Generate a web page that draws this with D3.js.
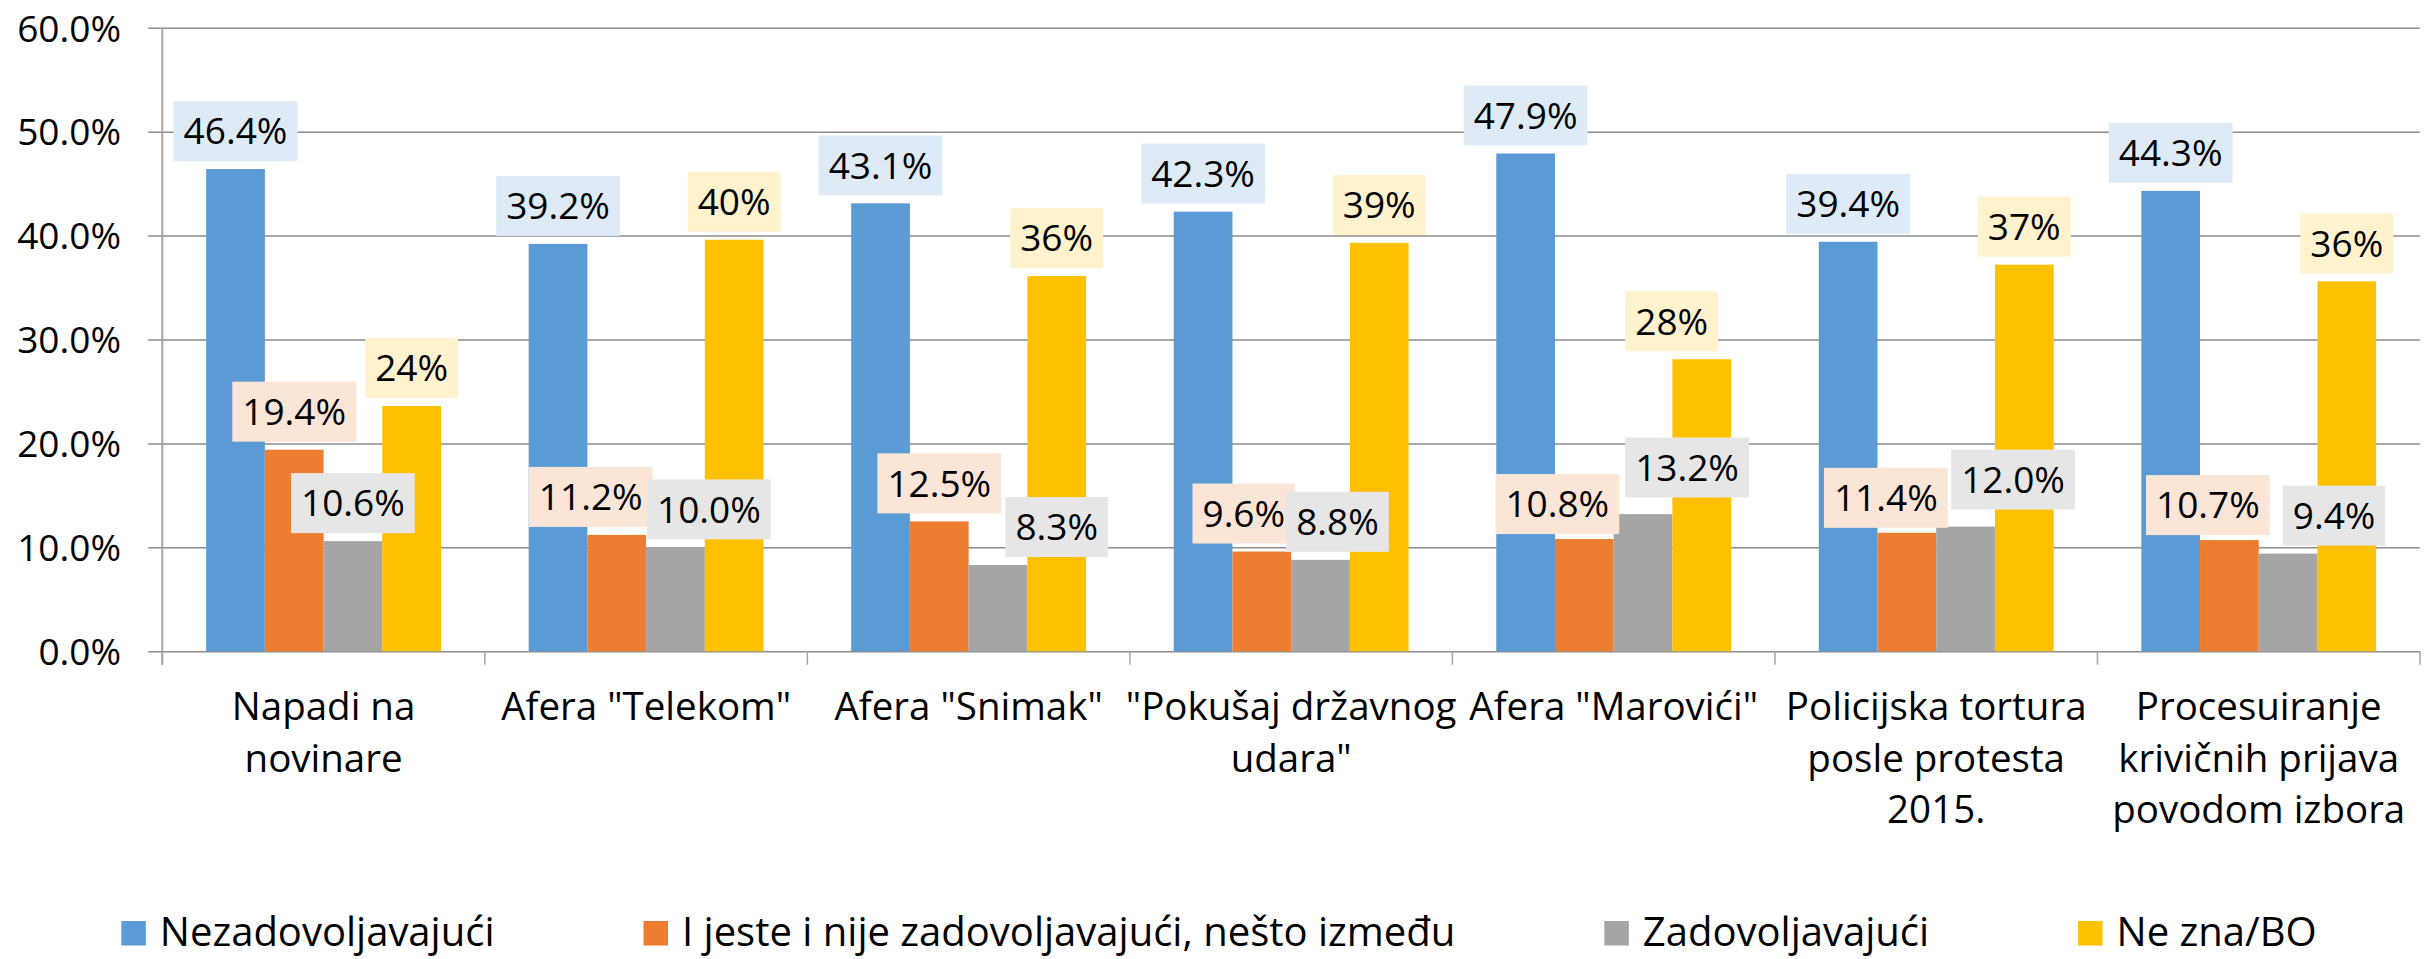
<!DOCTYPE html>
<html>
<head>
<meta charset="utf-8">
<script src="https://cdn.jsdelivr.net/npm/d3@7"></script>
<style>
  html, body { margin: 0; padding: 0; background: #fff; }
  svg { display: block; }
  text { font-family: "Open Sans", Lato, sans-serif; fill: #000; }
</style>
</head>
<body>
<svg id="chart" width="2433" height="959"></svg>
<script>
// ---- data ----
const categories = [
  ["Napadi na", "novinare"],
  ["Afera \"Telekom\""],
  ["Afera \"Snimak\""],
  ["\"Pokušaj državnog", "udara\""],
  ["Afera \"Marovići\""],
  ["Policijska tortura", "posle protesta", "2015."],
  ["Procesuiranje", "krivičnih prijava", "povodom izbora"]
];
const seriesNames = ["Nezadovoljavajući", "I jeste i nije zadovoljavajući, nešto između", "Zadovoljavajući", "Ne zna/BO"];
const nezadovoljavajuci = [46.4, 39.2, 43.1, 42.3, 47.9, 39.4, 44.3];
const izmedju = [19.4, 11.2, 12.5, 9.6, 10.8, 11.4, 10.7];
const zadovoljavajuci = [10.6, 10.0, 8.3, 8.8, 13.2, 12.0, 9.4];
const neZna = [23.6, 39.6, 36.1, 39.3, 28.1, 37.2, 35.6];
const yTicks = [0, 10, 20, 30, 40, 50, 60];
const labelDecimals = [1, 1, 1, 0];

const seriesValues = [nezadovoljavajuci, izmedju, zadovoljavajuci, neZna];

// ---- style / layout ----
const barColors = ["#5B9BD5", "#ED7D31", "#A5A5A5", "#FFC000"];
const boxColors = ["#DEEAF6", "#FBE5D6", "#E6E6E6", "#FFF2CC"];
// manual label nudges (px) as placed in the original, [series][category] -> [dx, dy]
const labelNudges = [
  [[0,0],[0,0],[0,0],[0,0],[0,0],[0,0],[0,0]],
  [[0,0],[-26,0],[0,0],[-18,0],[-27,3],[-21,3],[-21.5,3]],
  [[0,0],[33.5,0],[58.8,0],[17,0],[44,-8.6],[47.5,-9],[46,0]],
  [[0,0],[0,0],[0,0],[0,0],[-30,0],[0,0],[0,0]]
];

const svg = d3.select("#chart");
const plotLeft = 162.3, plotRight = 2420, plotTop = 27.7, plotBottom = 651.3;
const numFont = 37, catFont = 38.5, legendFont = 40;

const y = d3.scaleLinear().domain([0, 60]).range([plotBottom, plotTop]);
const catIdx = categories.map((c, i) => i);
const x0 = d3.scaleBand().domain(catIdx).range([plotLeft, plotRight]).padding(0);
const x1 = d3.scaleBand().domain(d3.range(seriesNames.length))
  .range([0, x0.bandwidth()]).paddingInner(0).paddingOuter(0.747);

// gridlines + y tick labels via axis
const yAxis = d3.axisLeft(y).tickValues(yTicks)
  .tickSize(-(plotRight - 148)).tickPadding(27)
  .tickFormat(d => d.toFixed(1) + "%");
const gy = svg.append("g").attr("transform", "translate(148,0)").call(yAxis);
gy.select(".domain").remove();
gy.selectAll(".tick line").attr("stroke", "#8E8E8E").attr("stroke-width", 1.5);
gy.selectAll(".tick text").attr("font-size", numFont).attr("fill", "#000")
  .attr("font-family", "'Open Sans', sans-serif").attr("dy", "0.36em");

// y axis line
svg.append("line").attr("x1", plotLeft).attr("x2", plotLeft)
  .attr("y1", plotTop).attr("y2", plotBottom + 13.5)
  .attr("stroke", "#A6A6A6").attr("stroke-width", 2);

// category ticks
const boundaries = d3.range(categories.length + 1).map(i =>
  i < categories.length ? x0(i) : x0(categories.length - 1) + x0.bandwidth());
svg.append("g").selectAll("line").data(boundaries).join("line")
  .attr("x1", d => d).attr("x2", d => d)
  .attr("y1", plotBottom).attr("y2", plotBottom + 13.5)
  .attr("stroke", "#A6A6A6").attr("stroke-width", 1.5);

// bars
const groups = svg.append("g").selectAll("g").data(catIdx).join("g")
  .attr("transform", i => `translate(${x0(i)},0)`);
groups.selectAll("rect").data(i => seriesValues.map((s, k) => ({k, v: s[i]}))).join("rect")
  .attr("x", d => x1(d.k)).attr("width", x1.bandwidth())
  .attr("y", d => y(d.v)).attr("height", d => y(0) - y(d.v))
  .attr("fill", d => barColors[d.k]);

// data labels (drawn series by series, like the original)
const labelLayer = svg.append("g");
seriesValues.forEach((s, k) => {
  catIdx.forEach(i => {
    const v = s[i];
    const [dx, dy] = labelNudges[k][i];
    const cx = x0(i) + x1(k) + x1.bandwidth() / 2 + dx;
    const g = labelLayer.append("g");
    const rect = g.append("rect").attr("fill", boxColors[k]);
    const t = g.append("text").attr("x", cx).attr("text-anchor", "middle")
      .attr("font-size", numFont)
      .text(v.toFixed(labelDecimals[k]) + "%");
    const w = t.node().getComputedTextLength() + 20;
    const h = 60;
    const bottom = y(v) - 8 + dy;
    rect.attr("x", cx - w / 2).attr("y", bottom - h).attr("width", w).attr("height", h);
    t.attr("y", bottom - h / 2).attr("dy", "0.36em");
  });
});

// category labels
const catLabels = svg.append("g");
catIdx.forEach(i => {
  const cx = x0(i) + x0.bandwidth() / 2;
  const t = catLabels.append("text").attr("text-anchor", "middle").attr("font-size", catFont);
  categories[i].forEach((line, j) => {
    t.append("tspan").attr("x", cx).attr("y", 720 + j * 51.7).text(line);
  });
});

// legend
const legend = svg.append("g");
const sq = 24.5, sqGap = 14, entryGap = 149, legendBase = 946;
const entries = seriesNames.map((name, k) => {
  const g = legend.append("g");
  g.append("rect").attr("width", sq).attr("height", sq).attr("y", legendBase - 25).attr("fill", barColors[k]);
  const t = g.append("text").attr("x", sq + sqGap).attr("y", legendBase).attr("font-size", legendFont).text(name);
  return {g, w: sq + sqGap + t.node().getComputedTextLength()};
});
const total = d3.sum(entries, e => e.w) + entryGap * (entries.length - 1);
let lx = 1219 - total / 2;
entries.forEach(e => { e.g.attr("transform", `translate(${lx},0)`); lx += e.w + entryGap; });
</script>
</body>
</html>
